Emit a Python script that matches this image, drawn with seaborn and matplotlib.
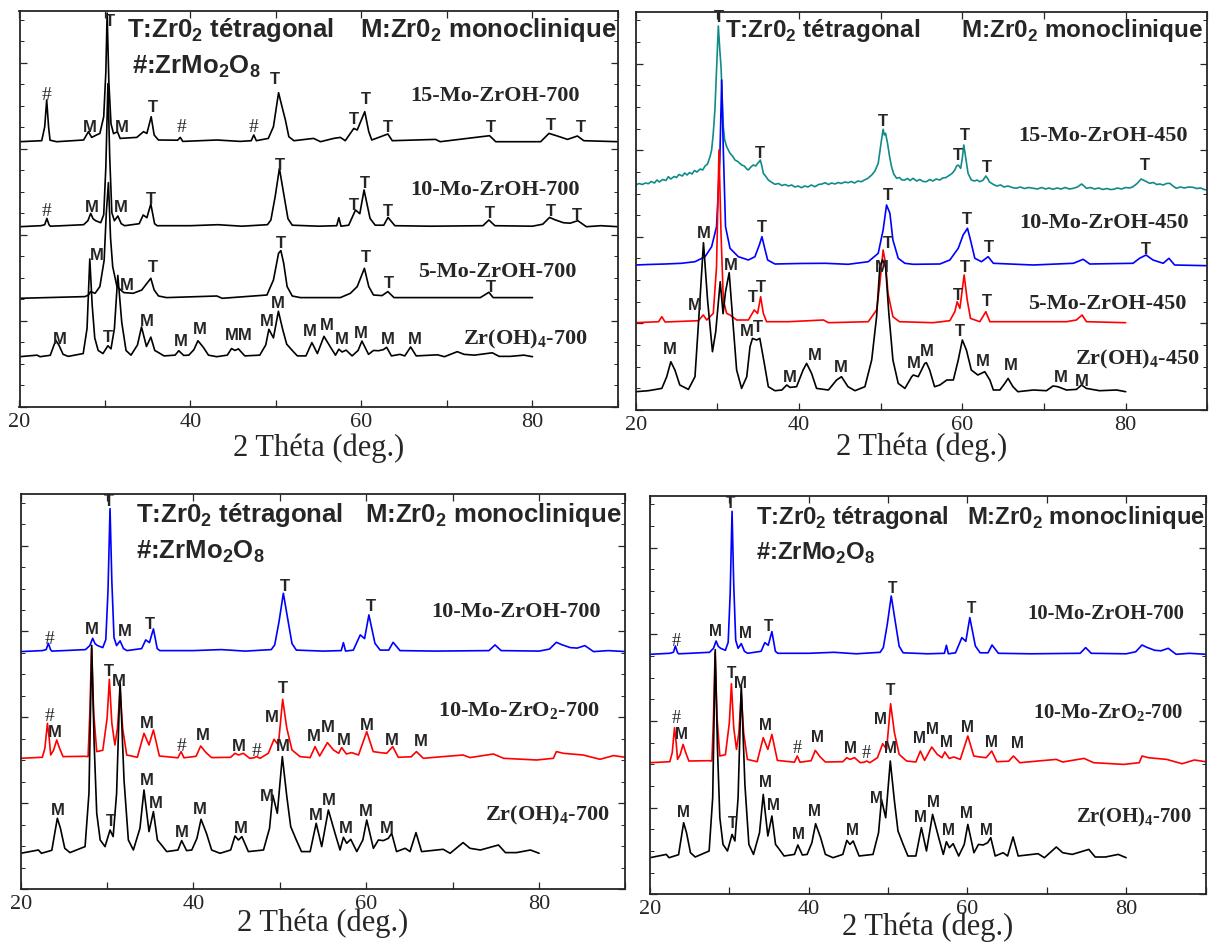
import numpy as np
import pandas as pd
import matplotlib
matplotlib.use("Agg")
import matplotlib.pyplot as plt
from matplotlib.ticker import MultipleLocator
import seaborn as sns

sns.set_style("ticks")
plt.rcParams['font.family'] = ['Liberation Serif', 'DejaVu Serif']
plt.rcParams['mathtext.fontset'] = 'custom'
plt.rcParams['mathtext.rm'] = 'Liberation Serif'
plt.rcParams['mathtext.bf'] = 'Liberation Serif:bold'
plt.rcParams['mathtext.sf'] = 'Liberation Sans:bold'

# ---------------- XRD patterns (2theta in deg, intensity in a.u. above own baseline)
# 10-Mo-ZrOH-700
mo10_700_x = [20, 22.5, 22.95, 23.2, 23.45, 23.6, 25.0, 27.5, 28.0, 28.33, 28.6, 28.9, 29.5, 29.85, 30.1, 30.34,
              30.55, 30.8, 31.1, 31.5, 31.9, 32.3, 34.0, 34.47, 34.9, 35.36, 35.8, 36.1, 40, 43.2, 46, 49.0,
              49.4, 49.9, 50.4, 50.8, 51.4, 51.9, 55, 57.1, 57.35, 57.6, 58.5, 59.3, 59.8, 60.3, 61.0, 61.6,
              62.6, 63.1, 63.9, 68, 74.2, 74.9, 75.6, 80, 81.2, 82.0, 82.6, 83.6, 84.4, 85.3, 86.3, 88, 90]
mo10_700_y = [0, 1, 2, 8.3, 2, 0.5, 1, 2, 6, 13.3, 8, 6, 4, 12, 60, 143,
              70, 14, 6, 10.7, 3, 1, 3, 11.7, 9, 22.7, 3, 1, 1, 2, 0.5, 2,
              6.7, 30, 58.3, 38, 8, 1.5, 0.5, 1, 9, 0.5, 1.5, 16.7, 13, 36.7, 8.3, 1.5,
              1.5, 9.3, 1, 0.5, 1, 6.7, 1, 0.5, 2.5, 9.3, 7, 4, 3.5, 6, 0, 1, 0]

# 15-Mo-ZrOH-700
mo15_700_x = [20, 22.6, 22.95, 23.18, 23.4, 23.57, 24.35, 27.5, 28.06, 28.45, 29.0, 29.4, 29.85, 30.1, 30.25,
              30.45, 30.7, 31.0, 31.45, 31.77, 33.72, 34.5, 34.9, 35.4, 35.75, 36.25, 38.5, 38.8, 39.1, 43.1,
              45.8, 47.1, 47.4, 47.7, 49.1, 49.7, 50.3, 50.8, 51.1, 51.5, 52.1, 54.4, 55.2, 56.75, 57.53, 58.1,
              59.1, 59.5, 60.38, 60.85, 61.2, 63.08, 63.6, 68.66, 69.2, 74.98, 75.7, 80.95, 81.93, 82.9, 84.1,
              85.25, 86.0, 90]
mo15_700_y = [0, 1, 15, 41.7, 15, 1.5, 0, 1.7, 10, 4.3, 6.7, 8.3, 25, 70, 128.7,
              60, 18, 8, 10, 3.3, 4.3, 10, 8.3, 25, 6.7, 1.7, 1.5, 4.3, 0.3, 1.7,
              0.3, 1, 6.7, 1, 3.3, 15, 49, 31.7, 21.7, 5, 1, 3.3, 0, 3.3, 4.3, 1,
              13.3, 11.7, 30, 10, 1.7, 7.7, 1, 2.3, 0, 6, 0, 0, 8.3, 5.7, 2.3,
              5.7, 1, 0]

# 5-Mo-ZrOH-700
mo5_700_x = [20, 27.67, 28.06, 28.33, 28.84, 29.4, 29.9, 30.15, 30.4, 30.65, 30.9, 31.4, 32.2, 33.3, 34.3,
             35.36, 35.75, 36.26, 37.2, 43.09, 43.7, 48.94, 49.7, 50.3, 50.57, 50.9, 51.3, 51.9, 52.85, 57.53,
             58.7, 59.5, 60.34, 60.85, 61.4, 62.4, 63.08, 63.8, 73.9, 74.9, 75.4, 80]
mo5_700_y = [0, 1.7, 3.3, 6.7, 5, 11.7, 38, 85, 115.7, 60, 31.7, 11.7, 5.7, 5, 8.3,
             20, 8.3, 2.3, 0.7, 2.3, 0, 3.3, 18.3, 45, 47.7, 35, 11.7, 2.3, 0.7, 0.7,
             5, 11.7, 30, 11.7, 3.3, 2.7, 6.7, 0.7, 0.7, 6, 0.7, 0.7]

# Zr(OH)4-700
zr700_x = [20, 22.05, 22.4, 23.6, 24.24, 24.6, 25.1, 25.7, 27.45, 27.9, 28.22, 28.5, 28.8, 29.2, 29.76, 30.34,
           30.7, 31.1, 31.5, 31.96, 32.46, 33.04, 33.8, 34.27, 34.85, 35.36, 35.82, 36.3, 36.9, 38.2, 38.63,
           39.2, 39.8, 40.4, 40.87, 41.5, 42.1, 43.07, 44.3, 44.8, 45.2, 45.6, 46.35, 48.1, 48.8, 49.17, 49.7,
           50.28, 50.8, 51.25, 51.9, 52.5, 53.5, 54.2, 54.84, 55.61, 56.38, 56.96, 57.35, 57.73, 58.2, 58.9,
           59.6, 60.05, 60.82, 61.4, 61.98, 62.55, 62.94, 63.5, 64.5, 65.06, 65.75, 66.4, 68.9, 69.7, 71.2,
           72, 73.2, 75.3, 76.1, 77.4, 79.0, 80.0]
zr700_y = [0, 3.3, 0, 3, 35, 25, 5, 0.7, 6.7, 60, 208, 110, 40, 13.3, 6.7, 23.3,
           16.7, 60, 173, 73, 13.3, 3.3, 25, 63.3, 21.7, 41.7, 13.3, 8.3, 1.7, 3.3, 12.7,
           2.7, 3.3, 15, 34, 20, 3.3, 0, 3.3, 17.3, 13.3, 16.7, 1.7, 3.3, 25, 58.3, 40,
           96.7, 56.7, 26.7, 13.3, 1.7, 1.7, 30, 6.7, 43.3, 20, 3.3, 16, 10, 14, 1.7,
           13.3, 33.3, 5, 13.3, 12.7, 15, 20, 1.7, 5, 1.7, 20.7, 1.7, 4, 0, 10.7,
           5, 3.3, 8.3, 0.7, 0.7, 3.3, 0]

# 10-Mo-ZrO2-700
mo10_zro2_x = [20, 22.5, 22.8, 23.09, 23.3, 23.47, 23.8, 24.17, 24.5, 24.9, 27.4, 27.8, 28.0, 28.2, 28.45, 28.8,
               29.5, 30.0, 30.26, 30.55, 30.9, 31.2, 31.5, 31.8, 32.27, 33.5, 34.27, 34.85, 35.36, 36.05, 38.2,
               38.56, 38.9, 40.3, 40.83, 41.45, 42.1, 44.3, 44.8, 45.2, 45.77, 46.5, 47.0, 47.3, 47.7, 48.66,
               49.32, 49.82, 50.32, 50.8, 51.4, 52.33, 53.5, 54.07, 54.6, 55.5, 56.2, 56.8, 57.15, 57.7, 58.3,
               59.1, 60.05, 60.8, 61.6, 62.36, 63.06, 63.7, 65.2, 65.8, 66.6, 68.9, 71.2, 72, 74.7, 75.9, 79.7,
               81.65, 82.0, 82.8, 85.1, 87.05, 88.6, 90]
mo10_zro2_y = [0, 1, 10, 35, 20, 3.3, 8, 18.3, 10, 1.7, 2, 1.7, 45, 110, 45, 6.7,
               8, 40, 79, 35, 13.3, 30, 69, 30, 3.3, 1, 25, 13.3, 28.3, 2.3, 0.5,
               6.7, 0.5, 2, 12.3, 5.7, 0.7, 1, 5, 3.3, 5, 0, 0.5, 1.7, 0, 5,
               19, 13.3, 59, 30, 8.3, 1.7, 0.7, 11.7, 2.3, 15.7, 8.3, 5, 10.7, 4.3, 5.7,
               3.3, 26.7, 6.7, 5.7, 5, 11.7, 1, 1.5, 6.7, 0, 1.7, 3.3, 0.7, 4.3, 0, -1.7,
               0, 6.7, 5, 3.3, -1, 2.7, 1]

# 15-Mo-ZrOH-450
mo15_450_x = [20.0, 20.4, 20.8, 21.2, 21.55, 21.9, 22.3, 22.6, 22.9, 23.3, 23.7, 24.0, 24.3, 24.7, 25.0, 25.3,
              25.7, 26.0, 26.3, 26.6, 26.9, 27.2, 27.5, 27.9, 28.2, 28.5, 28.8, 29.1, 29.3, 29.5, 29.7, 29.83,
              30.0, 30.12, 30.3, 30.45, 30.6, 30.73, 30.9, 31.14, 31.35, 31.55, 31.85, 32.16, 32.5, 32.97, 33.3,
              33.6, 33.8, 34.1, 34.4, 34.7, 34.93, 35.1, 35.26, 35.45, 35.63, 35.9, 36.24, 36.6, 37.05, 37.5,
              37.9, 38.3, 38.7, 39.1, 39.5, 39.9, 40.3, 40.7, 41.1, 41.5, 41.95, 42.4, 42.8, 43.2, 43.6, 44.0,
              44.4, 44.8, 45.2, 45.6, 46.03, 46.4, 46.8, 47.2, 47.66, 48.0, 48.4, 48.9, 49.3, 49.7, 50.1, 50.3,
              50.45, 50.6, 50.84, 51.1, 51.33, 51.6, 51.95, 52.3, 52.6, 52.96, 53.3, 53.6, 53.98, 54.4, 54.8,
              55.2, 55.6, 56.0, 56.4, 56.8, 57.25, 57.6, 58.0, 58.47, 58.8, 59.08, 59.3, 59.5, 59.8, 60.0,
              60.18, 60.39, 60.55, 60.7, 61.1, 61.5, 61.8, 62.14, 62.55, 62.88, 63.1, 63.3, 63.7, 64.2, 64.7,
              65.1, 65.6, 66.1, 66.6, 67.1, 67.6, 68.1, 68.67, 69.2, 69.7, 70.2, 70.6, 71.1, 71.6, 72.1, 72.6,
              73.1, 73.6, 74.1, 74.6, 74.9, 75.2, 75.7, 76.2, 76.7, 77.2, 77.7, 78.1, 78.5, 79.0, 79.5, 80.0,
              80.5, 80.9, 81.4, 81.9, 82.4, 82.95, 83.4, 83.8, 84.2, 84.6, 85.0, 85.4, 85.8, 86.2, 86.7, 87.2,
              87.7, 88.25, 88.7, 89.2, 89.6, 90.0]
mo15_450_y = [5.0, 6.5, 5.5, 7.0, 6.3, 8.5, 7.0, 10.0, 8.0, 10.5, 9.5, 13.3, 11.0, 13.5, 12.5, 15.5,
              14.0, 17.0, 15.0, 17.5, 16.0, 19.5, 18.0, 21.0, 20.0, 24.0, 26.0, 33.3, 40, 56.7, 80, 106.7,
              140, 164, 140, 123.3, 90, 63.3, 50, 43.3, 40.0, 36.7, 34.0, 30, 28.5, 25, 24.0,
              21.0, 20, 23.0, 25, 24.0, 26.7, 28.0, 30, 24.0, 16.7, 14.0, 10, 8.0, 5.7, 6.5,
              4.5, 5.5, 4.0, 5.0, 3.0, 4.0, 2.3, 4.0, 3.0, 5.0, 3.3, 5.5, 6.0, 7.3, 5.5, 7.0,
              6.0, 7.5, 6.5, 8.0, 7.3, 8.5, 7.0, 9.0, 8.3, 10.0, 11.5, 15, 19, 26.7, 50, 60.7,
              55, 56.7, 46.7, 33, 23.3, 16, 11.7, 12.5, 10.0, 10, 11.5, 9.5, 11.7, 9.0, 10.5,
              8.5, 8.3, 10.5, 9.0, 11.0, 10, 12.0, 12.5, 15, 17.0, 20, 24.0, 25, 21.7, 32,
              45, 33.3, 24, 16.7, 10, 9.0, 10.0, 8.3, 10, 14, 11.5, 8.3, 6.0, 4, 5.0,
              3.0, 4.0, 2.5, 1.7, 3.0, 1.5, 2.5, 1.7, 1.0, 2.5, 1.0, 2.0, 0.7, 2.0, 1.0, 2.5,
              1.0, 1.7, 3.0, 6, 4.0, 1.7, 2.5, 1.0, 2.0, 0.5, 1.5, 0.5, 0.7, 2.0, 1.0, 2.5,
              2.0, 3.3, 6.5, 11, 9.0, 6.7, 7.5, 5.5, 6.0, 5, 6.5, 6.7, 4.0, 1.7, 3.0, 2.0,
              3.0, 2.7, 1.5, 2.0, 0.5, 0.0]

# 10-Mo-ZrOH-450
mo10_450_x = [20, 21.5, 23.6, 25.6, 27.26, 28.49, 29.3, 29.9, 30.3, 30.53, 30.73, 31.0, 31.55, 32.57, 33.8,
              34.6, 35.14, 35.46, 35.75, 36.16, 37.05, 40, 43.2, 46.03, 48.48, 49.7, 50.3, 50.72, 51.13, 51.5,
              52.15, 52.97, 53.98, 57.25, 58.47, 59.5, 60.1, 60.63, 61.0, 61.53, 62.35, 63.16, 63.8, 68.67,
              73.6, 74.8, 75.6, 80.9, 81.7, 82.5, 83.35, 84.6, 85.3, 86.0, 90]
mo10_450_y = [0, 0.5, 1, 1.7, 3.3, 8.3, 18.3, 38.3, 105, 185, 115, 38.3, 16.7, 8.3, 5,
              8.3, 20, 28.3, 18.3, 5, 1, 1.5, 1.7, 0.7, 3.3, 11.7, 35, 60, 51.7, 25,
              6.7, 1.7, 0.7, 1, 5, 16.7, 30, 36.7, 25, 6.7, 3.3, 8.3, 1.7, 0,
              1.7, 5.7, 1, 1.7, 6.7, 10, 5, 1.7, 6.7, 0, -0.7]

# 5-Mo-ZrOH-450
mo5_450_x = [20, 22.8, 23.2, 23.6, 27.67, 28.28, 28.7, 29.5, 29.9, 30.2, 30.45, 30.73, 31.14, 31.55, 32.36,
             33.8, 34.52, 34.93, 35.3, 35.63, 36.03, 38.7, 43.0, 43.6, 48.48, 49.5, 49.9, 50.3, 50.6, 50.9,
             51.5, 52.3, 56.4, 58.47, 59.08, 59.37, 59.7, 60.22, 60.6, 61.0, 62.14, 62.88, 63.37, 72.75,
             73.97, 74.67, 75.2, 80]
mo5_450_y = [0, 1, 6, 0.7, 2, 7.7, 2.7, 9.3, 56, 172.7, 89, 22.7, 9.3, 7.7, 2.7,
             2.7, 12.7, 9.3, 26, 9.3, 1, 1, 2.7, 0, 1, 12.7, 39.3, 72.7, 59.3, 29.3,
             6, 1, 0, 2, 11, 21, 14.3, 47.7, 22.7, 4.3, 1, 11, 1, 1,
             2.7, 7.7, 1, 0]

# Zr(OH)4-450
zr450_x = [20, 21.55, 23.2, 23.8, 24.3, 24.8, 25.4, 26.45, 27.26, 27.87, 28.3, 28.8, 29.4, 29.8, 30.35, 30.7,
           31.0, 31.45, 31.95, 32.36, 32.97, 33.6, 34.0, 34.3, 34.8, 35.2, 35.75, 36.24, 37.05, 37.9, 38.5,
           38.9, 39.7, 40.5, 40.93, 41.54, 42.15, 43.6, 44.6, 45.2, 46.0, 46.85, 48.07, 48.9, 49.5, 49.9,
           50.23, 50.6, 51.0, 51.5, 52.15, 52.97, 53.8, 54.0, 54.6, 55.4, 55.6, 56.0, 56.6, 57.25, 58.1,
           58.9, 59.5, 60.0, 60.5, 61.1, 61.9, 62.75, 63.37, 63.8, 64.6, 65.2, 65.6, 66.2, 66.8, 68.7, 70.3,
           71.1, 71.7, 72.75, 73.97, 74.6, 75.2, 76.8, 78.9, 80.0]
zr450_y = [0, 1, 3.3, 15, 30, 21.7, 6.7, 2.3, 15, 91.7, 149, 91.7, 40, 60, 110, 78,
           100, 119, 65, 21.7, 3.3, 15, 45, 53.3, 51.7, 53.3, 28.3, 5, 1, 1.7, 6.7,
           4.3, 5, 21.7, 28.3, 18.3, 3.3, 1.7, 11.7, 15, 5, 1, 5, 31.7, 75, 125,
           132, 125, 78.3, 31.7, 8.3, 3.3, 15, 16.7, 15, 28.3, 29, 21.7, 5, 6.7, 11.7,
           11.7, 31.7, 51.7, 41.7, 21.7, 16.7, 20, 11.7, 1.7, 1.7, 8.3, 13.3, 5, 0, 1.7, 1,
           5.7, 5, 1.7, 2.3, 6.7, 3.3, 1, 1.7, 0]

# ---------------- phase marks (text, 2theta, height)
marks_700 = [('T', 30.6, 386), ('#', 23.18, 312), ('M', 28.2, 279), ('M', 32.0, 280), ('T', 35.6, 300),
             ('#', 38.9, 279), ('#', 47.4, 280), ('T', 49.9, 327), ('T', 59.1, 288), ('T', 60.5, 307),
             ('T', 63.1, 280), ('T', 75.1, 280), ('T', 82.2, 282), ('T', 85.6, 280),
             ('#', 23.2, 195), ('M', 28.45, 200), ('M', 31.8, 199), ('T', 35.4, 207), ('T', 50.4, 242),
             ('T', 59.1, 202), ('T', 60.4, 224), ('T', 63.1, 195), ('T', 75.0, 194), ('T', 82.2, 195),
             ('T', 85.2, 192),
             ('M', 29.0, 152), ('M', 32.5, 122), ('T', 35.6, 140), ('T', 50.6, 164), ('T', 60.5, 149),
             ('T', 63.2, 124), ('T', 75.1, 119),
             ('M', 24.7, 68), ('T', 30.3, 70), ('M', 34.9, 85), ('M', 38.9, 65), ('M', 41.05, 78),
             ('MM', 45.6, 72), ('M', 48.9, 86), ('M', 50.2, 104), ('M', 54.0, 75), ('M', 56.0, 82),
             ('M', 57.7, 68), ('M', 59.9, 74), ('M', 63.1, 67), ('M', 66.2, 68)]

marks_450 = [('T', 30.24, 393), ('T', 35.2, 257), ('T', 50.3, 289), ('T', 59.4, 254), ('T', 60.3, 274),
             ('T', 63.0, 243), ('T', 82.3, 244),
             ('T', 35.46, 183), ('T', 50.84, 214), ('T', 60.6, 190), ('T', 63.2, 162), ('T', 82.5, 161),
             ('T', 34.3, 113), ('T', 35.3, 122), ('T', 50.84, 167), ('T', 59.4, 115), ('T', 60.3, 143),
             ('T', 63.0, 108),
             ('M', 28.3, 177), ('M', 27.2, 105), ('M', 31.67, 145), ('M', 50.1, 143), ('M', 24.2, 60),
             ('M', 33.6, 78), ('T', 35.0, 82), ('M', 38.9, 33), ('M', 41.95, 54), ('M', 45.1, 42),
             ('M', 54.0, 46), ('M', 55.6, 59), ('T', 59.7, 78), ('M', 62.55, 48), ('M', 65.9, 44),
             ('M', 72.1, 32), ('M', 74.6, 29)]

marks_cmp = [('T', 30.15, 388), ('#', 23.3, 250), ('M', 28.2, 260), ('M', 32.0, 258), ('T', 35.0, 265),
             ('T', 50.6, 303), ('T', 60.5, 283),
             ('#', 23.3, 173), ('M', 23.9, 157), ('T', 30.26, 218), ('M', 31.4, 208), ('M', 34.6, 166),
             ('#', 38.56, 143), ('M', 41.06, 154), ('M', 45.3, 143), ('#', 47.3, 138), ('M', 49.05, 172),
             ('T', 50.3, 201), ('M', 50.3, 143), ('M', 53.9, 153), ('M', 55.6, 162), ('M', 57.4, 149),
             ('M', 60.05, 164), ('M', 63.0, 149), ('M', 66.3, 148),
             ('M', 24.25, 79), ('T', 30.4, 68), ('M', 34.6, 109), ('M', 35.6, 86), ('M', 38.7, 57),
             ('M', 40.7, 80), ('M', 45.46, 61), ('M', 48.5, 93), ('M', 54.1, 74), ('M', 55.7, 89),
             ('M', 57.6, 61), ('M', 59.9, 78), ('M', 62.4, 61)]

legend_t = r'T:Zr0$_\mathsf{2}$ tétragonal'
legend_m = r'M:Zr0$_\mathsf{2}$ monoclinique'
legend_h = r'#:ZrMo$_\mathsf{2}$O$_\mathsf{8}$'
tick_text = ['20', '', '40', '', '60', '', '80', '']

fig = plt.figure(figsize=(12.1, 9.42), dpi=100)
W, H = 1210.0, 942.0


def make_ax(left, top, right, bottom):
    ax = fig.add_axes([left / W, 1 - bottom / H, (right - left) / W, (bottom - top) / H])
    height = bottom - top
    ax.set_xlim(20, 90)
    ax.set_ylim(0, height)
    return ax, height


def curve(ax, x, y, offset, color, scale=1.0):
    df = pd.DataFrame({'theta': x, 'counts': np.asarray(y, dtype=float) * scale + offset})
    sns.lineplot(data=df, x='theta', y='counts', color=color, lw=1.2, sort=False,
                 estimator=None, ax=ax)


def finish(ax, height, marks, labels, legend_pos, hash_pos, fs=1.0, dy=0.0, lab_off=41, leg_fs=18.5):
    ax.set_xlabel('')
    ax.set_ylabel('')
    ax.set_xlim(20, 90)
    ax.set_ylim(0, height)
    ax.set_xticks(range(20, 91, 10))
    ax.set_xticklabels(tick_text, fontsize=16, family='Liberation Serif')
    ax.yaxis.set_major_locator(MultipleLocator(height / 4.6))
    ax.yaxis.set_minor_locator(MultipleLocator(height / 18.4))
    ax.tick_params(axis='both', which='major', direction='in', length=5, width=0.9,
                   top=True, right=True, labelleft=False, pad=4)
    ax.tick_params(axis='y', which='minor', direction='in', length=3, width=0.7, left=True, right=True)
    for s in ax.spines.values():
        s.set_linewidth(1.3)
    for txt, tx, ty in marks:
        if txt == '#':
            ax.text(tx, ty + dy, txt, ha='center', va='center', fontsize=14 * fs,
                    family='Liberation Serif')
        else:
            ax.text(tx, ty + dy, txt, ha='center', va='center', fontsize=12 * fs,
                    family='Liberation Sans', weight='bold')
    for txt, tx, ty in labels:
        ax.text(tx, ty + dy, txt, ha='left', va='center', fontsize=16 * fs,
                family='Liberation Serif', weight='bold', clip_on=True)
    (tx1, tx2, ty) = legend_pos
    ax.text(tx1, ty + dy, legend_t, ha='left', va='center', fontsize=leg_fs * fs,
            family='Liberation Sans', weight='bold', clip_on=True)
    ax.text(tx2, ty + dy, legend_m, ha='left', va='center', fontsize=leg_fs * fs,
            family='Liberation Sans', weight='bold', clip_on=True)
    if hash_pos is not None:
        ax.text(hash_pos[0], hash_pos[1] + dy, legend_h, ha='left', va='center', fontsize=leg_fs * fs,
                family='Liberation Sans', weight='bold')
    ax.text(0.5, -lab_off / height, '2 Théta (deg.)', transform=ax.transAxes, ha='center',
            va='center', fontsize=22)


teal = '#118a8a'

# panel 1 : 700 series
ax1, h1 = make_ax(19.5, 11, 618, 407)
curve(ax1, mo15_700_x, mo15_700_y, 265.3, 'black')
curve(ax1, mo10_700_x, mo10_700_y, 180.3, 'black')
curve(ax1, mo5_700_x, mo5_700_y, 108.7, 'black')
curve(ax1, zr700_x, zr700_y, 50.3, 'black', scale=0.47)
finish(ax1, h1, marks_700,
       [('15-Mo-ZrOH-700', 65.7, 311), ('10-Mo-ZrOH-700', 65.7, 217),
        ('5-Mo-ZrOH-700', 66.6, 135), (r'Zr(OH)$_\mathbf{4}$-700', 71.9, 68)],
       (32.6, 59.8, 377), (33.1, 340))

# panel 2 : 450 series
ax2, h2 = make_ax(635.7, 11.7, 1207.3, 410)
curve(ax2, mo15_450_x, mo15_450_y, 220, teal)
curve(ax2, mo10_450_x, mo10_450_y, 145, 'blue')
curve(ax2, mo5_450_x, mo5_450_y, 87.3, 'red')
curve(ax2, zr450_x, zr450_y, 18.3, 'black')
finish(ax2, h2, marks_450,
       [('15-Mo-ZrOH-450', 66.8, 274), ('10-Mo-ZrOH-450', 67.0, 187),
        ('5-Mo-ZrOH-450', 68.1, 106), (r'Zr(OH)$_\mathbf{4}$-450', 73.85, 51)],
       (30.93, 59.8, 380), None, lab_off=37, leg_fs=17.5)

# panels 3 and 4 : comparison
cmp_labels = [('10-Mo-ZrOH-700', 67.5, 277), (r'10-Mo-ZrO$_\mathbf{2}$-700', 68.3, 178),
              (r'Zr(OH)$_\mathbf{4}$-700', 73.7, 74)]
ax3, h3 = make_ax(20.7, 494, 625.5, 889.3)
curve(ax3, mo10_700_x, mo10_700_y, 237.7, 'blue')
curve(ax3, mo10_zro2_x, mo10_zro2_y, 131, 'red')
curve(ax3, zr700_x, zr700_y, 36, 'black')
finish(ax3, h3, marks_cmp, cmp_labels, (33.35, 59.9, 374), (33.35, 338), lab_off=34)

ax4, h4 = make_ax(650, 495.7, 1205.5, 894.3)
curve(ax4, mo10_700_x, mo10_700_y, 240, 'blue')
curve(ax4, mo10_zro2_x, mo10_zro2_y, 131.6, 'red')
curve(ax4, zr700_x, zr700_y, 36.6, 'black')
finish(ax4, h4, marks_cmp, cmp_labels, (33.3, 59.9, 374), (33.3, 338), fs=0.93, dy=3, lab_off=33)

fig.savefig('out.png', dpi=100)
